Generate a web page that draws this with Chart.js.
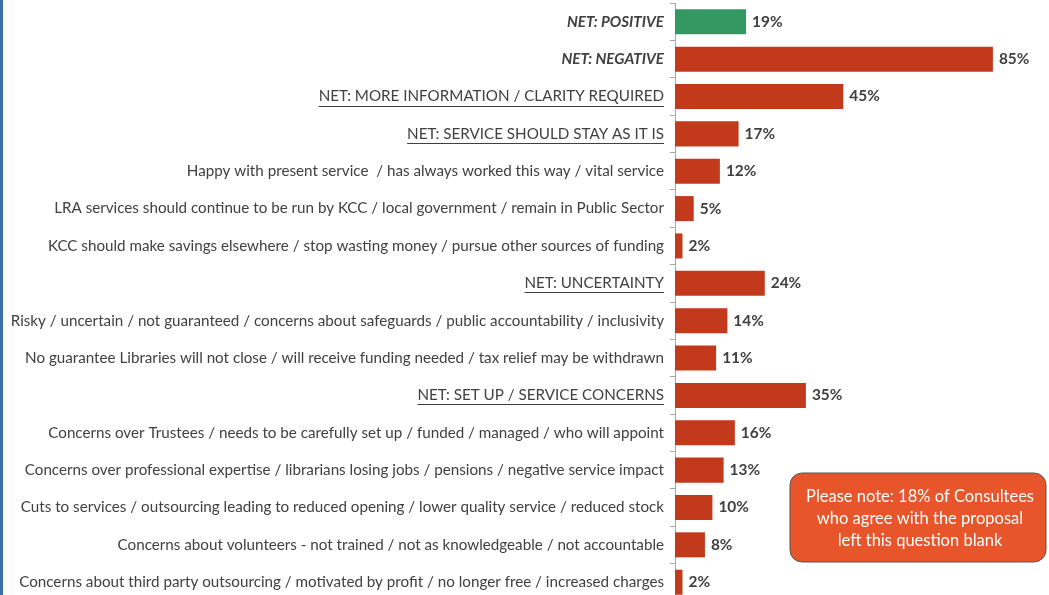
<!DOCTYPE html>
<html>
<head>
<meta charset="utf-8">
<script src="https://cdn.jsdelivr.net/npm/chart.js@4.4.1/dist/chart.umd.min.js"></script>
<style>
  html, body { margin: 0; padding: 0; background: #fff; overflow: hidden; }
  #wrap { position: relative; width: 1049px; height: 595px; overflow: hidden; }
  #faixa { position: absolute; left: 0; top: 0; width: 3px; height: 595px; background: #3a6ea8; }
  canvas { position: absolute; left: 0; top: -12px; }
</style>
</head>
<body>
<div id="wrap">
  <canvas id="grafico-respostas" width="1049" height="628"></canvas>
  <div id="faixa"></div>
</div>
<script>
// categorias e valores (%)
const categorias = [
  'NET: POSITIVE',
  'NET: NEGATIVE',
  'NET: MORE INFORMATION / CLARITY REQUIRED',
  'NET: SERVICE SHOULD STAY AS IT IS',
  'Happy with present service  / has always worked this way / vital service',
  'LRA services should continue to be run by KCC / local government / remain in Public Sector',
  'KCC should make savings elsewhere / stop wasting money / pursue other sources of funding',
  'NET: UNCERTAINTY',
  'Risky / uncertain / not guaranteed / concerns about safeguards / public accountability / inclusivity',
  'No guarantee Libraries will not close / will receive funding needed / tax relief may be withdrawn',
  'NET: SET UP / SERVICE CONCERNS',
  'Concerns over Trustees / needs to be carefully set up / funded / managed / who will appoint',
  'Concerns over professional expertise / librarians losing jobs / pensions / negative service impact',
  'Cuts to services / outsourcing leading to reduced opening / lower quality service / reduced stock',
  'Concerns about volunteers - not trained / not as knowledgeable / not accountable',
  'Concerns about third party outsourcing / motivated by profit / no longer free / increased charges'
];
const valores = [19, 85, 45, 17, 12, 5, 2, 24, 14, 11, 35, 16, 13, 10, 8, 2];
const italicos = [0, 1];          // rótulos em negrito itálico
const sublinhados = [2, 3, 7, 10]; // rótulos sublinhados
const nota = ['Please note: 18% of Consultees', 'who agree with the proposal', 'left this question blank'];

const fonte = 'Lato, "Open Sans", sans-serif';
const tamanho = 15.2;
const corTexto = '#404040';
const corVerde = 'rgb(52, 152, 98)';
const corVermelho = 'rgb(194, 57, 27)';
const desloc = 12; // canvas deslocado para cima

// rótulos de valor na ponta das barras
const rotulosValor = {
  id: 'rotulosValor',
  afterDatasetsDraw(chart) {
    const ctx = chart.ctx;
    const meta = chart.getDatasetMeta(0);
    ctx.save();
    ctx.font = 'bold 15.4px ' + fonte;
    ctx.fillStyle = corTexto;
    ctx.textAlign = 'left';
    ctx.textBaseline = 'middle';
    meta.data.forEach((bar, i) => {
      ctx.fillText(valores[i] + '%', bar.x + 6, bar.y);
    });
    ctx.restore();
  }
};

// sublinhado de alguns rótulos + caixa de nota
const extras = {
  id: 'extras',
  afterDraw(chart) {
    const ctx = chart.ctx;
    const y = chart.scales.y;
    const direita = y.right - 11;
    ctx.save();
    ctx.font = tamanho + 'px ' + fonte;
    ctx.strokeStyle = corTexto;
    ctx.lineWidth = 1;
    sublinhados.forEach(i => {
      const w = ctx.measureText(categorias[i]).width;
      const py = Math.round(y.getPixelForTick(i)) + 9.5;
      ctx.beginPath();
      ctx.moveTo(direita - w, py);
      ctx.lineTo(direita, py);
      ctx.stroke();
    });

    // caixa laranja
    const bx = 790, by = 473 + desloc, bw = 256, bh = 89, r = 12;
    ctx.beginPath();
    ctx.roundRect(bx, by, bw, bh, r);
    ctx.fillStyle = 'rgb(232, 85, 42)';
    ctx.fill();
    ctx.strokeStyle = '#555';
    ctx.lineWidth = 1;
    ctx.stroke();
    ctx.fillStyle = '#fff';
    ctx.font = '16.5px ' + fonte;
    ctx.textAlign = 'center';
    ctx.textBaseline = 'middle';
    nota.forEach((linha, i) => {
      ctx.fillText(linha, bx + bw / 2 + 2, by + 24 + i * 22);
    });
    ctx.restore();
  }
};

const ctxRespostas = document.getElementById('grafico-respostas');
new Chart(ctxRespostas, {
  type: 'bar',
  data: {
    labels: categorias,
    datasets: [{
      data: valores,
      backgroundColor: valores.map((v, i) => i === 0 ? corVerde : corVermelho),
      borderWidth: 0,
      barPercentage: 0.67,
      categoryPercentage: 1
    }]
  },
  options: {
    indexAxis: 'y',
    responsive: false,
    animation: false,
    devicePixelRatio: 1,
    layout: { autoPadding: false, padding: { top: 2, bottom: 0, right: 0, left: 0 } },
    plugins: { legend: { display: false }, tooltip: { enabled: false } },
    scales: {
      x: { display: false, min: 0, max: 100 },
      y: {
        afterFit(scale) { scale.width = 675; },
        border: { display: true, color: '#a6a6a6', width: 1 },
        grid: { display: true, drawOnChartArea: false, tickLength: 5, color: '#a6a6a6', offset: true },
        ticks: {
          padding: 6,
          color: corTexto,
          autoSkip: false,
          font: (c) => italicos.includes(c.index)
            ? { family: fonte, size: tamanho, style: 'italic', weight: 'bold' }
            : { family: fonte, size: tamanho }
        }
      }
    }
  },
  plugins: [rotulosValor, extras]
});
</script>
</body>
</html>
